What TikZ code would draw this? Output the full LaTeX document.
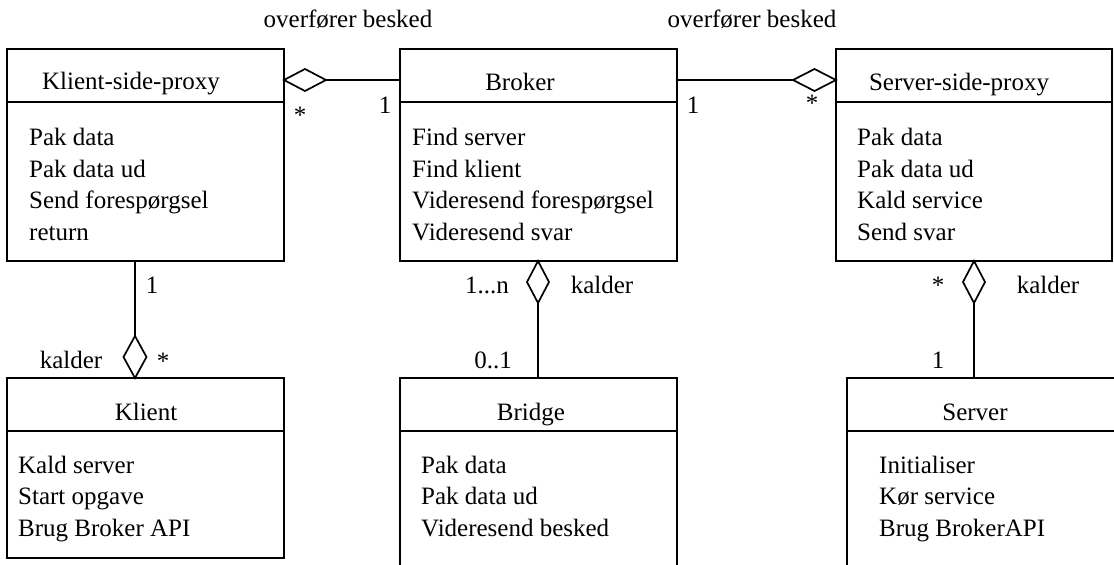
\documentclass[tikz,border=0pt]{standalone}
\usepackage{fontspec}
\setmainfont{Liberation Serif}
\usetikzlibrary{shapes.geometric}
\begin{document}
\begin{tikzpicture}[x=1pt,y=-1pt,
  every node/.style={font=\fontsize{25}{30}\selectfont},
  box/.style={draw, line width=1.7pt, rectangle, inner sep=0pt, outer sep=0pt, anchor=north west},
  divline/.style={line width=1.7pt},
  conn/.style={line width=1.7pt},
  agg/.style={draw, line width=1.7pt, diamond, inner sep=0pt, outer sep=0pt, fill=white},
  hdr/.style={inner sep=0pt, anchor=base},
  item/.style={inner sep=0pt, anchor=base west},
  mult/.style={inner sep=0pt, anchor=base}]
\useasboundingbox (0,0) rectangle (1114,565);
\clip (0,0) rectangle (1114,565);

% boxes
\node[box, minimum width=277pt, minimum height=212pt] (ksp) at (7,49) {};
\node[box, minimum width=277pt, minimum height=212pt] (brk) at (400,49) {};
\node[box, minimum width=276pt, minimum height=212pt] (ssp) at (836,49) {};
\node[box, minimum width=277pt, minimum height=180pt] (kli) at (7,378) {};
\node[box, minimum width=277pt, minimum height=230pt] (brg) at (400,378) {};
\node[box, minimum width=300pt, minimum height=230pt] (srv) at (847,378) {};

% dividers
\foreach \b in {ksp,brk,ssp,kli,brg,srv}
  \draw[divline] ([yshift=-53pt]\b.north west) -- ([yshift=-53pt]\b.north east);

% headers
\node[hdr] (hksp) at (131,89) {Klient-side-proxy};
\node[hdr] (hbrk) at (520,90) {Broker};
\node[hdr] (hssp) at (959,90) {Server-side-proxy};
\node[hdr] (hkli) at (146,420) {Klient};
\node[hdr] (hbrg) at (531,420) {Bridge};
\node[hdr] (hsrv) at (975,420) {Server};

% items
\node[item] (k1) at (29,145) {Pak data};
\node[item] (k2) at (29,177) {Pak data ud};
\node[item] (k3) at (29,208) {Send forespørgsel};
\node[item] (k4) at (29,240) {return};

\node[item] (b1) at (412,145) {Find server};
\node[item] (b2) at (412,177) {Find klient};
\node[item] (b3) at (412,208) {Videresend forespørgsel};
\node[item] (b4) at (412,240) {Videresend svar};

\node[item] (s1) at (857,145) {Pak data};
\node[item] (s2) at (857,177) {Pak data ud};
\node[item] (s3) at (857,208) {Kald service};
\node[item] (s4) at (857,240) {Send svar};

\node[item] (c1) at (18,473) {Kald server};
\node[item] (c2) at (18,504) {Start opgave};
\node[item] (c3) at (18,536) {Brug Broker API};

\node[item] (g1) at (421,473) {Pak data};
\node[item] (g2) at (421,504) {Pak data ud};
\node[item] (g3) at (421,536) {Videresend besked};

\node[item] (v1) at (879,473) {Initialiser};
\node[item] (v2) at (879,504) {Kør service};
\node[item] (v3) at (879,536) {Brug BrokerAPI};

% aggregation diamonds
\node[agg, minimum width=42pt, minimum height=22pt] (d1) at (305,80) {};
\node[agg, minimum width=43pt, minimum height=22pt] (d2) at (814.5,80) {};
\node[agg, minimum width=23pt, minimum height=42pt] (d3) at (135,357) {};
\node[agg, minimum width=22pt, minimum height=42pt] (d4) at (538,282) {};
\node[agg, minimum width=22pt, minimum height=42pt] (d5) at (974,282) {};

% connectors
\draw[conn] (d1.east) -- (d1.east -| brk.west);
\draw[conn] (d2.west -| brk.east) -- (d2.west);
\draw[conn] (d3.north |- ksp.south) -- (d3.north);
\draw[conn] (d4.south) -- (d4.south |- brg.north);
\draw[conn] (d5.south) -- (d5.south |- srv.north);

% association labels
\node[mult] (lab1) at (348,27) {overfører besked};
\node[mult] (lab2) at (752,27) {overfører besked};
\node[mult] (m1) at (300,123) {*};
\node[mult] (m2) at (385,113) {1};
\node[mult] (m3) at (693,113) {1};
\node[mult] (m4) at (812,111) {*};
\node[mult] (m5) at (152,293) {1};
\node[mult] (lab3) at (71,368) {kalder};
\node[mult] (m6) at (163,369) {*};
\node[mult] (m7) at (487,293) {1...n};
\node[mult] (lab4) at (602,293) {kalder};
\node[mult] (m8) at (493,368) {0..1};
\node[mult] (m9) at (938,293) {*};
\node[mult] (lab5) at (1048,293) {kalder};
\node[mult] (m10) at (938,368) {1};
\end{tikzpicture}
\end{document}
